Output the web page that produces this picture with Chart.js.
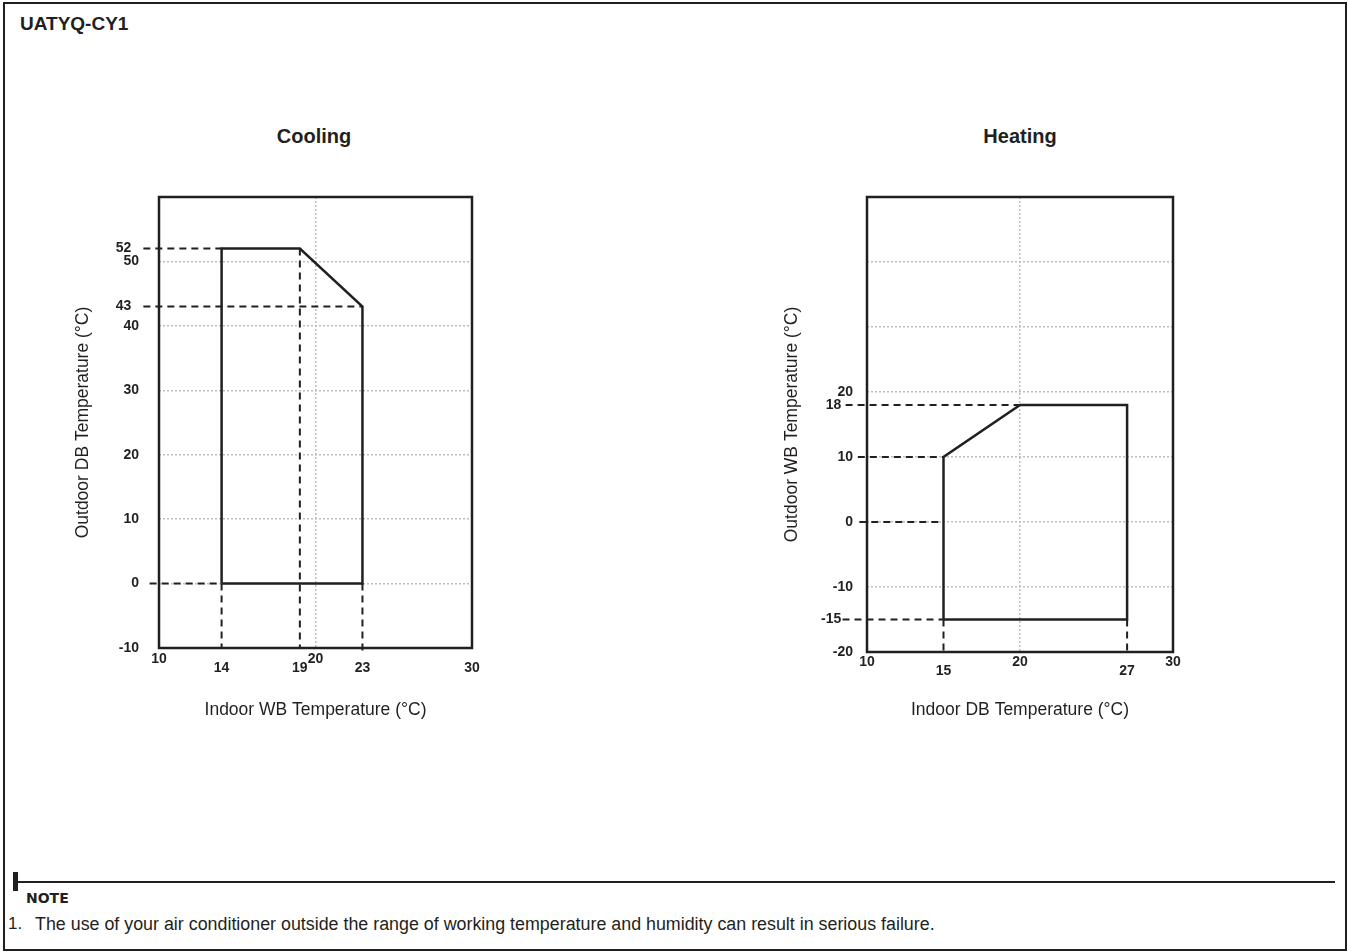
<!DOCTYPE html>
<html>
<head>
<meta charset="utf-8">
<script src="https://cdn.jsdelivr.net/npm/chart.js@4"></script>
<style>
  body { margin: 0; width: 1348px; height: 952px; background: #fff; color: #231f20;
         font-family: "Liberation Sans", Arial, sans-serif; position: relative; overflow: hidden; }
  #page { position: absolute; left: 3px; top: 2px; width: 1340px; height: 945px; border: 2px solid #231f20; }
  #model { position: absolute; left: 20px; top: 13px; font-weight: bold; font-size: 19px; }
  .ctitle { position: absolute; top: 125px; width: 300px; text-align: center; font-weight: bold; font-size: 20px; }
  canvas { position: absolute; top: 180px; }
  #bar { position: absolute; left: 13px; top: 872px; width: 5px; height: 19px; background: #231f20; }
  #rule { position: absolute; left: 13px; top: 881px; width: 1322px; height: 2px; background: #231f20; }
  #noteHead { position: absolute; left: 26px; top: 890px; font-family: "DejaVu Sans", sans-serif; font-weight: bold; font-size: 14px; }
  #noteNum { position: absolute; left: 8px; top: 914px; font-size: 17px; }
  #noteText { position: absolute; left: 35px; top: 914px; font-size: 17.85px; }
</style>
</head>
<body>
<div id="page"></div>
<div id="model">UATYQ-CY1</div>
<div class="ctitle" style="left:164px">Cooling</div>
<div class="ctitle" style="left:870px">Heating</div>
<canvas id="cool" width="460" height="560" style="left:40px"></canvas>
<canvas id="heat" width="460" height="560" style="left:740px"></canvas>
<div id="bar"></div>
<div id="rule"></div>
<div id="noteHead">NOTE</div>
<div id="noteNum">1.</div>
<div id="noteText">The use of your air conditioner outside the range of working temperature and humidity can result in serious failure.</div>
<script>
// Cooling: indoor WB vs outdoor DB
const coolXTicks = [10, 14, 19, 20, 23, 30];
const coolYTicks = [-10, 0, 10, 20, 30, 40, 43, 50, 52];
const coolGridX = [20];
const coolGridY = [0, 10, 20, 30, 40, 50];
const coolLowX = [14, 19, 23, 30];
const coolShiftY = [43, 52];
const coolEnvelope = [[14, 0], [14, 52], [19, 52], [23, 43], [23, 0], [14, 0]];
const coolGuides = [
  [[9, 52], [14, 52]],
  [[9, 43], [23, 43]],
  [[9.4, 0], [14, 0]],
  [[19, 52], [19, -10]],
  [[14, 0], [14, -10]],
  [[23, 0], [23, -10.8]]
];

// Heating: indoor DB vs outdoor WB
const heatXTicks = [10, 15, 20, 27, 30];
const heatYTicks = [-20, -15, -10, 0, 10, 18, 20, 30, 40];
const heatHiddenY = [30, 40];
const heatGridX = [20];
const heatGridY = [-10, 0, 10, 20, 30, 40];
const heatLowX = [15, 27];
const heatShiftY = [18, -15];
const heatEnvelope = [[15, -15], [15, 10], [20, 18], [27, 18], [27, -15], [15, -15]];
const heatGuides = [
  [[8.6, 18], [20, 18]],
  [[9.4, 10], [15, 10]],
  [[9.5, 0], [15, 0]],
  [[8.4, -15], [15, -15]],
  [[15, -15], [15, -20]],
  [[27, -15], [27, -20]]
];

const INK = '#231f20';
const GRID = '#bdbdbd';
const FONT = '"Liberation Sans", Arial, sans-serif';

const toPts = arr => arr.map(p => ({ x: p[0], y: p[1] }));

// box round the plot area
const framePlugin = {
  id: 'frame',
  beforeDatasetsDraw(chart) {
    const { ctx, chartArea: a } = chart;
    ctx.save();
    ctx.strokeStyle = INK;
    ctx.lineWidth = 2.5;
    ctx.strokeRect(a.left, a.top, a.right - a.left, a.bottom - a.top);
    ctx.restore();
  }
};

function makeChart(id, c) {
  const datasets = c.guides.map(g => ({
    data: toPts(g),
    showLine: true,
    borderColor: INK,
    borderWidth: 2,
    borderDash: [7, 5],
    pointRadius: 0,
    clip: false
  }));
  datasets.push({
    data: toPts(c.envelope),
    showLine: true,
    borderColor: INK,
    borderWidth: 2.5,
    pointRadius: 0,
    clip: false
  });

  new Chart(document.getElementById(id), {
    type: 'scatter',
    data: { datasets },
    options: {
      responsive: false,
      animation: false,
      layout: { padding: { left: 0, top: 17, right: c.padRight, bottom: 0 } },
      plugins: { legend: { display: false }, tooltip: { enabled: false } },
      scales: {
        x: {
          type: 'linear', min: 10, max: 30,
          afterBuildTicks: s => { s.ticks = c.xTicks.map(v => ({ value: v })); },
          afterFit: s => { s.height = c.xHeight; s.paddingLeft = 0; s.paddingRight = 0; },
          grid: {
            drawTicks: false, lineWidth: 1.5,
            color: ctx => (ctx.tick && c.gridX.includes(ctx.tick.value)) ? GRID : 'rgba(0,0,0,0)'
          },
          border: { display: false, dash: [2, 2] },
          ticks: {
            autoSkip: false, maxRotation: 0, padding: c.xPad, color: INK,
            font: { family: FONT, size: 14, weight: 'bold', lineHeight: 0.64 },
            callback: v => c.lowX.includes(v) ? ['', String(v)] : String(v)
          },
          title: {
            display: true, text: c.xTitle, color: INK,
            font: { family: FONT, size: 17.5 }, padding: { top: 0, bottom: 19 }
          }
        },
        y: {
          type: 'linear', min: c.yMin, max: c.yMax,
          afterBuildTicks: s => { s.ticks = c.yTicks.map(v => ({ value: v })); },
          afterFit: s => { s.width = c.yWidth; s.paddingTop = 0; s.paddingBottom = 0; },
          grid: {
            drawTicks: false, lineWidth: 1.5,
            color: ctx => (ctx.tick && c.gridY.includes(ctx.tick.value)) ? GRID : 'rgba(0,0,0,0)'
          },
          border: { display: false, dash: [2, 2] },
          ticks: {
            autoSkip: false, padding: c.yPad, color: INK,
            font: { family: FONT, size: 14, weight: 'bold' },
            callback: v => {
              if (c.hiddenY.includes(v)) return '';
              return c.shiftY.includes(v) ? String(v) + c.shiftPad : String(v);
            }
          },
          title: {
            display: true, text: c.yTitle, color: INK,
            font: { family: FONT, size: 17.5 }, padding: { top: c.yTitlePad, bottom: 0 }
          }
        }
      }
    },
    plugins: [framePlugin]
  });
}

makeChart('cool', {
  xTicks: coolXTicks, yTicks: coolYTicks, gridX: coolGridX, gridY: coolGridY,
  lowX: coolLowX, shiftY: coolShiftY, hiddenY: [], shiftPad: '  ',
  envelope: coolEnvelope, guides: coolGuides,
  yMin: -10, yMax: 60,
  yWidth: 119, xHeight: 92, padRight: 28, xPad: 7, yPad: 20, yTitlePad: 33,
  xTitle: 'Indoor WB Temperature (°C)', yTitle: 'Outdoor DB Temperature (°C)'
});

makeChart('heat', {
  xTicks: heatXTicks, yTicks: heatYTicks, gridX: heatGridX, gridY: heatGridY,
  lowX: heatLowX, shiftY: heatShiftY, hiddenY: heatHiddenY, shiftPad: '   ',
  envelope: heatEnvelope, guides: heatGuides,
  yMin: -20, yMax: 50,
  yWidth: 127, xHeight: 88, padRight: 27, xPad: 6, yPad: 14, yTitlePad: 42,
  xTitle: 'Indoor DB Temperature (°C)', yTitle: 'Outdoor WB Temperature (°C)'
});
</script>
</body>
</html>
